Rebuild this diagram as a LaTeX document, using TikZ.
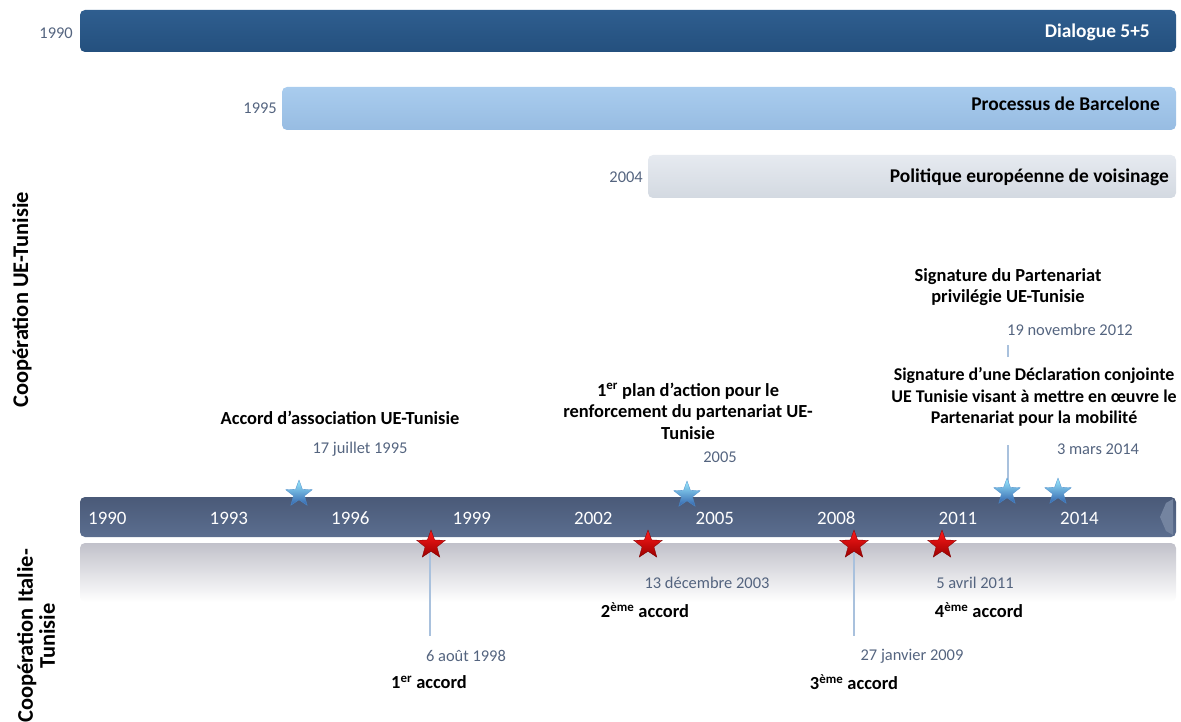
\documentclass[tikz,border=0pt]{standalone}
\usepackage{fontspec}
\setmainfont{Carlito}
\usepackage{tikz}
\usetikzlibrary{positioning, shapes.geometric}

\definecolor{darkbar}{HTML}{24507E}
\definecolor{darkbartop}{HTML}{2F5E8F}
\definecolor{midbar}{HTML}{97BCE2}
\definecolor{midbartop}{HTML}{A9CCEE}
\definecolor{greybar}{HTML}{D3D9E1}
\definecolor{greybartop}{HTML}{E6EAF0}
\definecolor{axisbar}{HTML}{5B6E8F}
\definecolor{axisbartop}{HTML}{4A5A78}
\definecolor{datecol}{HTML}{54647F}
\definecolor{linkcol}{HTML}{A9C1DD}

\tikzset{
  ttl/.style={font=\bfseries\fontsize{18.5}{21.5}\selectfont, align=center, inner sep=1bp},
  side/.style={font=\bfseries\fontsize{22.5}{22}\selectfont, align=center, inner sep=1bp, rotate=90},
  dte/.style={font=\fontsize{16.5}{19}\selectfont, text=datecol, inner sep=1bp},
  yrlbl/.style={font=\fontsize{19}{21}\selectfont, text=white, anchor=base west, inner sep=0pt},
  barlbl/.style={font=\bfseries\fontsize{19.5}{22}\selectfont, anchor=east, inner sep=0pt},
  bluestar/.style={star, star points=5, star point ratio=2.4, minimum size=28bp, inner sep=0pt,
    top color=blue!20!cyan!40!white, bottom color=blue!60!cyan!60!black!80, draw=blue!50!cyan!70!black!70, line width=0.3bp},
  redstar/.style={star, star points=5, star point ratio=2.4, minimum size=30bp, inner sep=0pt,
    top color=red!90!white, bottom color=red!60!black, draw=red!50!black, line width=0.3bp},
  link/.style={draw=linkcol, line width=1.3bp}
}

\begin{document}
\begin{tikzpicture}[x=1bp, y=-1bp]
  \useasboundingbox (0,0) rectangle (1181,722);

  % bars of the three frameworks
  \shade[top color=darkbartop, bottom color=darkbar, rounded corners=5bp] (80,10) rectangle (1176,52);
  \shade[top color=midbartop, bottom color=midbar, rounded corners=5bp] (282,87) rectangle (1176,130);
  \shade[top color=greybartop, bottom color=greybar, rounded corners=5bp] (648,155) rectangle (1176,198);
  \node[barlbl, text=white] (dial) at (1150,32) {Dialogue 5+5};
  \node[barlbl] (barc) at (1160,104) {Processus de Barcelone};
  \node[barlbl] (pev) at (1169,177) {Politique européenne de voisinage};
  \node[dte, anchor=east] (y1990) at (74,33) {1990};
  \node[dte, anchor=east] (y1995) at (278,108) {1995};
  \node[dte, anchor=east] (y2004) at (644,177) {2004};

  % time axis
  \shade[top color=axisbartop, bottom color=axisbar, rounded corners=5bp] (80,497) rectangle (1176,537);
  \fill[axisbar!85!white] (1173,499) -- (1166,503) -- (1160,517) -- (1166,531) -- (1173,535) -- cycle;
  \shade[top color=black!5!blue!8!gray!45, bottom color=white, rounded corners=5bp] (80,543) rectangle (1176,602);
  \foreach \yr [count=\i from 0] in {1990,1993,1996,1999,2002,2005,2008,2011,2014}
    \node[yrlbl] (a\yr) at ({88+121.5*\i},524) {\yr};

  % side labels
  \node[side] (ue) at (22,300) {Coopération UE-Tunisie};
  \node[side] (it) at (36,636) {Coopération Italie-\\Tunisie};

  % connectors
  \coordinate (c98) at (430,636);
  \coordinate (c09) at (854,636);
  \coordinate (c12a) at (1008,445);
  \coordinate (c12b) at (1008,357);
  \coordinate (c12c) at (1008,345);
  \draw[link] (430,548) -- (c98);
  \draw[link] (854,548) -- (c09);
  \draw[link] (1008,488) -- (c12a);
  \draw[link] (c12b) -- (c12c);

  % EU events
  \node[bluestar] (s95) at (299,494) {};
  \node[bluestar] (s05) at (687,495) {};
  \node[bluestar] (s12) at (1007,492) {};
  \node[bluestar] (s14) at (1058,492) {};
  \node[ttl] (t95) at (340,418) {Accord d’association UE-Tunisie};
  \node[dte] (d95) at (360,449) {17 juillet 1995};
  \node[ttl] (t05) at (688,411) {1\textsuperscript{er} plan d’action pour le\\renforcement du partenariat UE-\\Tunisie};
  \node[dte] (d05) at (720,457) {2005};
  \node[ttl] (t12) at (1008,287) {Signature du Partenariat\\privilégie UE-Tunisie};
  \node[dte] (d12) at (1070,330) {19 novembre 2012};
  \node[ttl, font=\bfseries\fontsize{18}{21.5}\selectfont] (t14) at (1034,397) {Signature d’une Déclaration conjointe\\UE Tunisie visant à mettre en œuvre le\\Partenariat pour la mobilité};
  \node[dte] (d14) at (1098,449) {3 mars 2014};

  % Italian agreements
  \node[redstar] (r98) at (431,545) {};
  \node[redstar] (r03) at (648,545) {};
  \node[redstar] (r09) at (854,545) {};
  \node[redstar] (r11) at (942,545) {};
  \node[dte] (d03) at (707,583) {13 décembre 2003};
  \node[ttl] (l03) at (645,610) {2\textsuperscript{ème} accord};
  \node[dte] (d98) at (466,656) {6 août 1998};
  \node[ttl] (l98) at (429,682) {1\textsuperscript{er} accord};
  \node[dte] (d09) at (912,656) {27 janvier 2009};
  \node[ttl] (l09) at (854,682) {3\textsuperscript{ème} accord};
  \node[dte] (d11) at (975,583) {5 avril 2011};
  \node[ttl] (l11) at (979,610) {4\textsuperscript{ème} accord};
\end{tikzpicture}
\end{document}
